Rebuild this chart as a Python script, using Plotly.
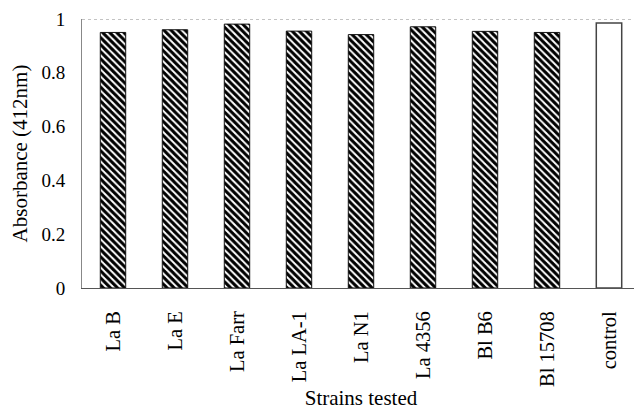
import plotly.graph_objects as go

strains = ["La B", "La E", "La Farr", "La LA-1", "La N1", "La 4356", "Bl B6", "Bl 15708", "control"]
absorbance = [0.950, 0.960, 0.981, 0.955, 0.942, 0.971, 0.954, 0.950, 0.985]
y_ticks = [0, 0.2, 0.4, 0.6, 0.8, 1]
y_tick_labels = ["0", "0.2", "0.4", "0.6", "0.8", "1"]

font_family = "Liberation Serif, Times New Roman, serif"

fig = go.Figure()
fig.add_trace(go.Bar(
    x=strains[:-1], y=absorbance[:-1],
    marker=dict(color="white",
                line=dict(color="#111111", width=1),
                pattern=dict(shape="\\", fgcolor="black", bgcolor="white",
                             size=5, solidity=0.6, fillmode="replace")),
    width=0.41,
))
fig.add_trace(go.Bar(
    x=strains[-1:], y=absorbance[-1:],
    marker=dict(color="white", line=dict(color="#444444", width=1.5)),
    width=0.41,
))

fig.add_shape(type="line", xref="paper", yref="y", x0=0, x1=1, y0=1, y1=1,
              line=dict(color="#888888", width=1, dash="dot"))

fig.update_layout(
    width=634, height=402,
    margin=dict(l=74, r=2, t=11, b=122, autoexpand=False),
    paper_bgcolor="white", plot_bgcolor="white",
    showlegend=False,
    font=dict(family=font_family, color="black", size=20),
    xaxis=dict(
        categoryorder="array", categoryarray=strains,
        tickangle=-90, tickfont=dict(size=20.5, family=font_family),
        showline=True, linecolor="#555555", linewidth=1,
        ticks="", showgrid=False, automargin=False,
        ticklabelstandoff=14,
        title=dict(text="Strains tested", font=dict(size=21, family=font_family), standoff=8),
    ),
    yaxis=dict(
        range=[0, 1], tickvals=y_ticks, ticktext=y_tick_labels,
        tickfont=dict(size=19, family=font_family),
        showline=True, linecolor="#888888", linewidth=1,
        ticks="", showgrid=False, zeroline=False, automargin=False,
        ticklabelstandoff=12,
        title=dict(text="Absorbance (412nm)", font=dict(size=21, family=font_family), standoff=10),
    ),
)

fig.write_html("out.html")
